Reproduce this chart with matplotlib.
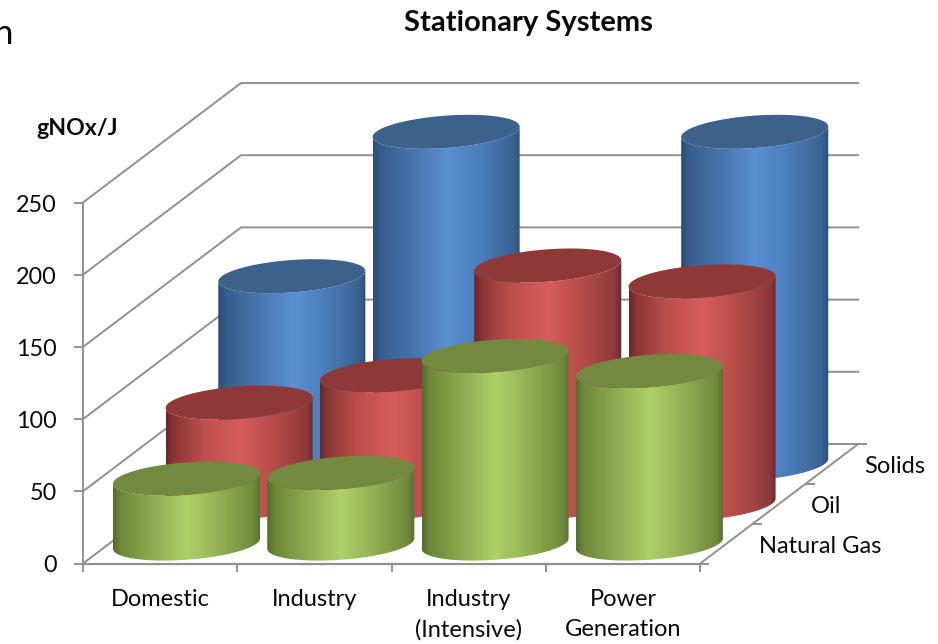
import numpy as np
import matplotlib
matplotlib.use("Agg")
import matplotlib.pyplot as plt
from matplotlib.colors import LinearSegmentedColormap
from matplotlib.patches import Polygon

plt.rcParams["font.family"] = ["Lato", "DejaVu Sans"]

# Data
categories = ["Domestic", "Industry", "Industry\n(Intensive)", "Power\nGeneration"]
series_names = ["Natural Gas", "Oil", "Solids"]
natural_gas = [45, 49, 130, 119.5]
oil = [70, 89, 165, 154]
solids = [130, 230, 0, 230]
y_ticks = [0, 50, 100, 150, 200, 250]

# Look of each series: gradient stops across the cylinder, and the lid colour
blue = ["#2b4c74", "#375d8d", "#4672aa", "#5b8fd3", "#4c7ebd", "#3a6293", "#2d5078"]
red = ["#662828", "#8a3534", "#bb4f4d", "#d75d5c", "#b84d4b", "#8f3a39", "#692a2a"]
green = ["#556c2d", "#6c8838", "#8ba84e", "#aed16a", "#93b053", "#6f8a3c", "#586f30"]
stops = [0, 0.05, 0.25, 0.5, 0.72, 0.95, 1]
series_colors = [green, red, blue]
lid_colors = ["#72893f", "#8e3837", "#3c618b"]

# Scale of the axes: pixels per category and pixels per value unit
px_cat = 154.3
px_val = 1.444
x0_px, y0_px = 83, 563.5
# Oblique depth: how far one depth row shifts a point, in data units
depth_x = 52.67 / px_cat
depth_y = 39.83 / px_val
radius_x = 70 / px_cat
radius_depth = 0.427


def project(cat, depth, value):
    return cat + depth * depth_x, value + depth * depth_y


fig = plt.figure(figsize=(9.38, 6.44), dpi=100)
ax = fig.add_axes([0, 0, 1, 1])
n_cat = len(categories)
n_depth = len(series_names)

# Walls and floor
grid_color = "#909090"
for v in y_ticks:
    xs, ys = zip(project(0, 0, v), project(0, n_depth, v), project(n_cat, n_depth, v))
    ax.plot(xs, ys, color=grid_color, lw=1.4, zorder=1, solid_joinstyle="miter")
    ax.plot([-8 / px_cat, 0], [v, v], color=grid_color, lw=1.4, zorder=1)
ax.plot([0, 0], [0, y_ticks[-1]], color=grid_color, lw=1.4, zorder=1)
ax.plot([0, n_cat], [0, 0], color=grid_color, lw=1.6, zorder=1)
xs, ys = zip(project(n_cat, 0, 0), project(n_cat, n_depth, 0))
ax.plot(xs, ys, color=grid_color, lw=1.4, zorder=1)
for i in range(n_cat + 1):
    ax.plot([i, i], [0, -7.5 / px_val], color=grid_color, lw=1.4, zorder=1)
for d in range(n_depth + 1):
    x, y = project(n_cat, d, 0)
    ax.plot([x, x + 8 / px_cat], [y, y], color=grid_color, lw=1.4, zorder=1)

# Cylinders, back row first
t = np.linspace(0, 2 * np.pi, 241)
t_right = np.arctan2(radius_depth * depth_x, radius_x)
all_values = [natural_gas, oil, solids]
z = 2
for row in [2, 1, 0]:
    cmap = LinearSegmentedColormap.from_list("c", list(zip(stops, series_colors[row])))
    for i, value in enumerate(all_values[row]):
        cat_c = i + 0.5
        depth_c = row + 0.5
        ring_x, ring_base = project(cat_c + radius_x * np.cos(t),
                                    depth_c + radius_depth * np.sin(t), 0)
        ring_top = ring_base + value

        # lower half of the base ring, from right extreme round the front to the left extreme
        front = np.linspace(t_right, t_right - np.pi, 121)
        fx, fy = project(cat_c + radius_x * np.cos(front),
                         depth_c + radius_depth * np.sin(front), 0)
        body_x = np.concatenate([fx, fx[::-1]])
        body_y = np.concatenate([fy, fy[::-1] + value])
        body = Polygon(np.column_stack([body_x, body_y]), closed=True,
                       transform=ax.transData, fc="none", ec="none")
        ax.add_patch(body)
        grad = np.linspace(0, 1, 256).reshape(1, -1)
        im = ax.imshow(grad, cmap=cmap, aspect="auto", zorder=z, interpolation="bilinear",
                       extent=(fx.min(), fx.max(), fy.min(), fy.max() + value))
        im.set_clip_path(body)
        ax.fill(ring_x, ring_top, color=lid_colors[row], lw=0, zorder=z + 1)
        z += 2

ax.set_xlim(-x0_px / px_cat, (938 - x0_px) / px_cat)
ax.set_ylim((y0_px - 644) / px_val, y0_px / px_val)
ax.axis("off")

# Text
text_color = "#0a0a0a"
for v in y_ticks:
    ax.text(-26 / px_cat, v - 2.5 / px_val, str(v), ha="right", va="center", fontsize=16.8,
            color=text_color)
for i, name in enumerate(categories):
    ax.text(i + 0.5, -25 / px_val, name, ha="center", va="top", fontsize=17,
            color=text_color, linespacing=1.56)
for d, name in enumerate(series_names):
    x, y = project(n_cat, d + 0.5, 0)
    ax.text(x + 32 / px_cat, y - 2.5 / px_val, name, ha="left", va="center", fontsize=17,
            color=text_color)
ax.text(-6 / px_cat, 435 / px_val, "gNOx/J", ha="center", va="center", fontsize=16.7,
        fontweight="bold", color=text_color)
ax.text(2.89, 541 / px_val, "Stationary Systems", ha="center", va="center", fontsize=21,
        fontweight="bold", color=text_color)
ax.text(-70 / px_cat, 520 / px_val, "n", ha="right", va="baseline", fontsize=25, color=text_color)

fig.savefig("out.png", dpi=100)
plt.close(fig)
